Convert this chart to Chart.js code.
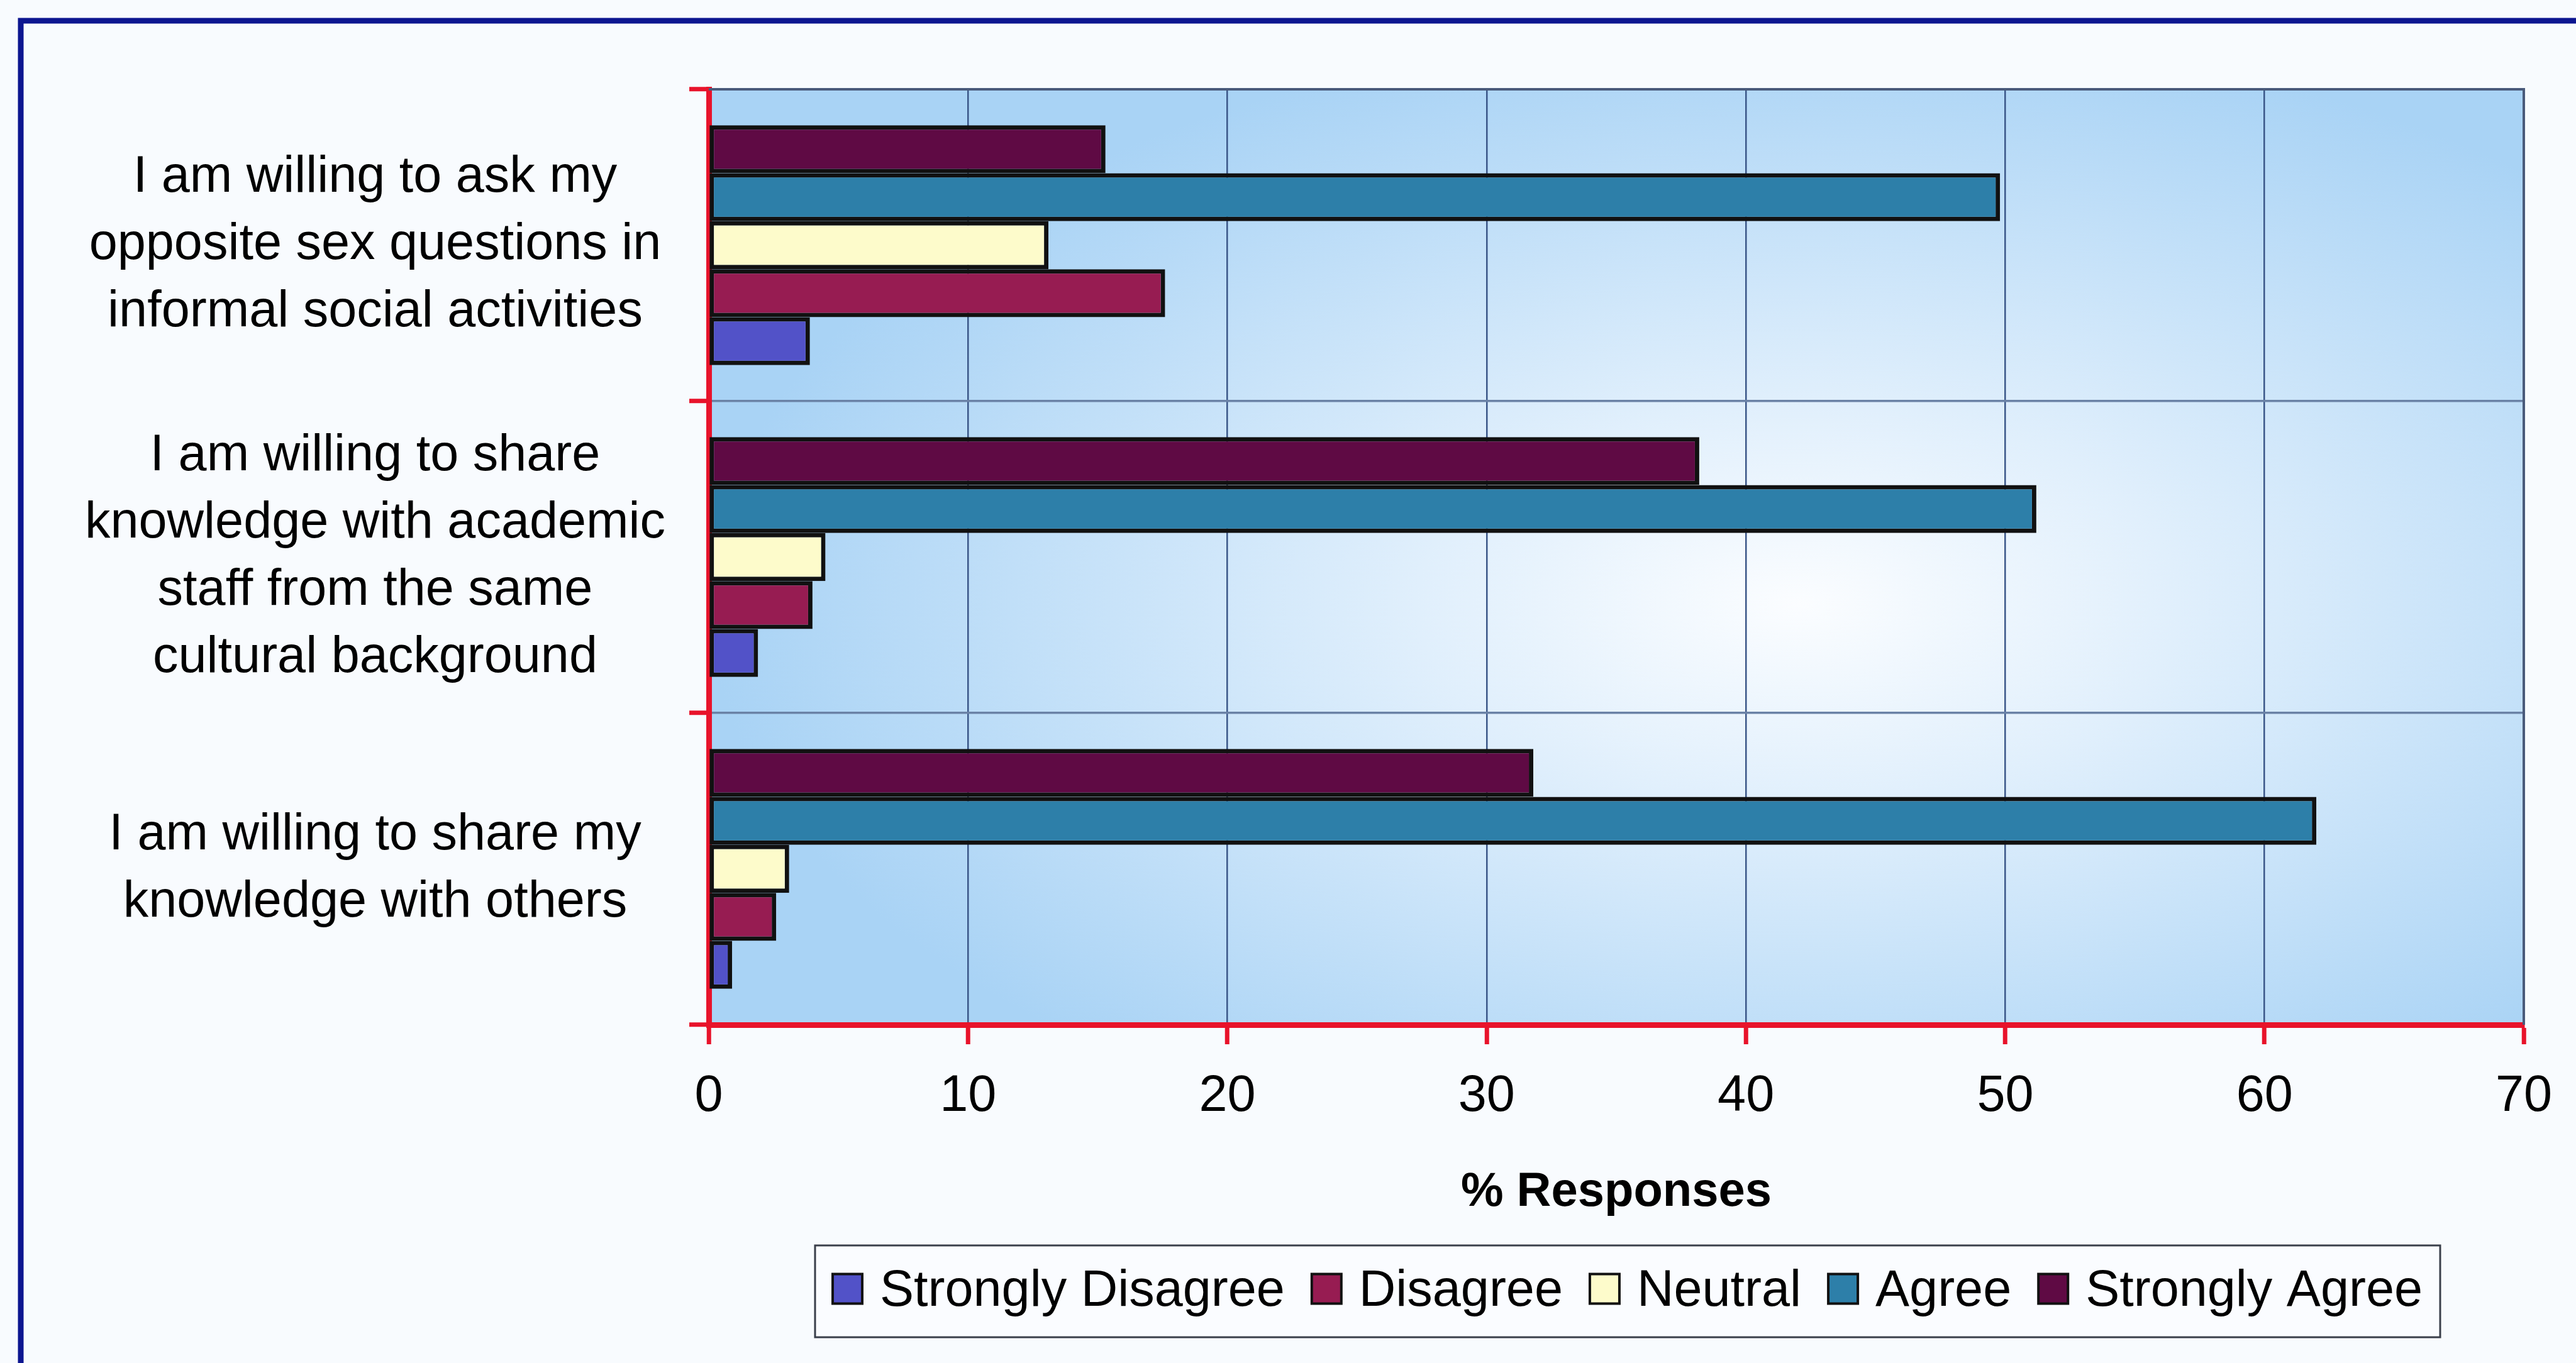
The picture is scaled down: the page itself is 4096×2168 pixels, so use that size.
<!DOCTYPE html>
<html>
<head>
<meta charset="utf-8">
<script src="https://cdn.jsdelivr.net/npm/chart.js@4.4.1/dist/chart.umd.min.js"></script>
<style>
  html, body { margin: 0; padding: 0; background: #F8FBFE; overflow: hidden; }
  #wrap { width: 4096px; height: 2168px; position: relative; }
  canvas { display: block; }
</style>
</head>
<body>
<div id="wrap"><canvas id="chart" width="4096" height="2168"></canvas></div>
<script>
// Survey statements, listed top to bottom
const categories = [
  ['I am willing to ask my', 'opposite sex questions in', 'informal social activities'],
  ['I am willing to share', 'knowledge with academic', 'staff from the same', 'cultural background'],
  ['I am willing to share my', 'knowledge with others']
];

// Response scale, in legend order
const seriesNames = ['Strongly Disagree', 'Disagree', 'Neutral', 'Agree', 'Strongly Agree'];
const seriesColors = ['#5252C8', '#971C52', '#FDFBCB', '#2D7FA9', '#5F0A44'];

// % of responses per statement (same order as categories)
const stronglyDisagree = [3.9, 1.9, 0.9];
const disagree         = [17.6, 4.0, 2.6];
const neutral          = [13.1, 4.5, 3.1];
const agree            = [49.8, 51.2, 62.0];
const stronglyAgree    = [15.3, 38.2, 31.8];

const xTicks = [0, 10, 20, 30, 40, 50, 60, 70];
const xTitle = '% Responses';

const seriesValues = [stronglyDisagree, disagree, neutral, agree, stronglyAgree];

const FONT = '"Liberation Sans", Arimo, Arial, sans-serif';
const AXIS_RED = '#E8132B';

// Bars stack from the top of each group: strongest agreement first
const datasets = seriesNames.map((name, i) => ({
  label: name,
  data: seriesValues[i],
  backgroundColor: seriesColors[i],
  borderColor: '#111111',
  borderWidth: 7,
  borderSkipped: false
})).reverse();

// Page background, outer frame and the shaded plot area
const panelPlugin = {
  id: 'panel',
  beforeDraw(chart) {
    const { ctx, chartArea: a, width, height } = chart;
    ctx.save();
    ctx.fillStyle = '#F8FBFE';
    ctx.fillRect(0, 0, width, height);

    ctx.strokeStyle = '#0D1690';
    ctx.lineWidth = 9;
    ctx.strokeRect(33, 33, width + 200, height + 200);

    ctx.beginPath();
    ctx.rect(a.left, a.top, a.width, a.height);
    ctx.clip();
    const cx = a.left + a.width * 0.6;
    const cy = a.top + a.height * 0.55;
    const rx = a.width * 0.6;
    const ry = a.height * 0.62;
    ctx.translate(cx, cy);
    ctx.scale(rx / ry, 1);
    const g = ctx.createRadialGradient(0, 0, 0, 0, 0, ry);
    g.addColorStop(0, '#FBFDFF');
    g.addColorStop(0.35, '#E0EFFC');
    g.addColorStop(1, '#A9D3F5');
    ctx.fillStyle = g;
    ctx.fillRect(-3 * ry, -3 * ry, 6 * ry, 6 * ry);
    ctx.restore();
  },
  afterDatasetsDraw(chart) {
    const { ctx, chartArea: a } = chart;
    ctx.save();
    ctx.strokeStyle = '#4A5B7B';
    ctx.lineWidth = 4;
    ctx.beginPath();
    ctx.moveTo(a.left, a.top);
    ctx.lineTo(a.right, a.top);
    ctx.lineTo(a.right, a.bottom);
    ctx.stroke();
    ctx.restore();
  }
};

// Boxed legend row under the axis title
const legendPlugin = {
  id: 'boxedLegend',
  afterDraw(chart) {
    const ctx = chart.ctx;
    ctx.save();
    ctx.font = '81px ' + FONT;
    const box = 47, gapText = 28, gapItem = 43, padX = 28;
    const centerX = 2588, top = 1981, h = 146, cy = top + h / 2;
    const widths = seriesNames.map(n => ctx.measureText(n).width);
    const total = widths.reduce((s, w) => s + box + gapText + w, 0) + gapItem * (seriesNames.length - 1);
    let x = centerX - total / 2;

    ctx.fillStyle = '#FAFCFF';
    ctx.fillRect(x - padX, top, total + 2 * padX, h);
    ctx.strokeStyle = '#3A3F4A';
    ctx.lineWidth = 3;
    ctx.strokeRect(x - padX, top, total + 2 * padX, h);

    ctx.textBaseline = 'alphabetic';
    ctx.textAlign = 'left';
    seriesNames.forEach((name, i) => {
      ctx.fillStyle = seriesColors[i];
      ctx.fillRect(x, cy - box / 2 - 4, box, box);
      ctx.strokeStyle = '#111111';
      ctx.lineWidth = 4;
      ctx.strokeRect(x, cy - box / 2 - 4, box, box);
      ctx.fillStyle = '#000000';
      ctx.fillText(name, x + box + gapText, cy + 23);
      x += box + gapText + widths[i] + gapItem;
    });
    ctx.restore();
  }
};

Chart.defaults.color = '#000000';
Chart.defaults.font.family = FONT;

new Chart(document.getElementById('chart'), {
  type: 'bar',
  data: { labels: categories, datasets },
  plugins: [panelPlugin, legendPlugin],
  options: {
    indexAxis: 'y',
    responsive: false,
    devicePixelRatio: 1,
    animation: false,
    layout: { padding: { left: 40, right: 83, top: 142, bottom: 225 } },
    datasets: { bar: { categoryPercentage: 0.769, barPercentage: 1.0 } },
    plugins: {
      legend: { display: false },
      tooltip: { enabled: false }
    },
    scales: {
      x: {
        type: 'linear',
        position: 'bottom',
        min: 0,
        max: 70,
        afterBuildTicks: s => { s.ticks = xTicks.map(v => ({ value: v })); },
        afterFit: s => { s.height = 313; s.paddingLeft = 0; s.paddingRight = 0; },
        border: { display: true, color: AXIS_RED, width: 9 },
        grid: {
          color: '#3A5688',
          lineWidth: 2.5,
          drawTicks: true,
          tickLength: 31,
          tickColor: AXIS_RED,
          tickWidth: 7
        },
        ticks: {
          font: { size: 81, family: FONT },
          color: '#000000',
          padding: 35,
          maxRotation: 0,
          autoSkip: false
        },
        title: {
          display: true,
          text: xTitle,
          font: { size: 76, weight: 'bold', family: FONT },
          color: '#000000',
          padding: 0
        }
      },
      y: {
        type: 'category',
        position: 'left',
        z: 1,
        afterFit: s => { s.width = 1087; s.paddingTop = 0; s.paddingBottom = 0; },
        border: { display: true, color: AXIS_RED, width: 9 },
        grid: {
          color: '#6A82A6',
          lineWidth: 3.5,
          drawTicks: true,
          tickLength: 31,
          tickColor: AXIS_RED,
          tickWidth: 7
        },
        ticks: {
          font: { size: 81, family: FONT, lineHeight: 1.32 },
          color: '#000000',
          crossAlign: 'center',
          padding: 38,
          autoSkip: false
        }
      }
    }
  }
});
</script>
</body>
</html>
